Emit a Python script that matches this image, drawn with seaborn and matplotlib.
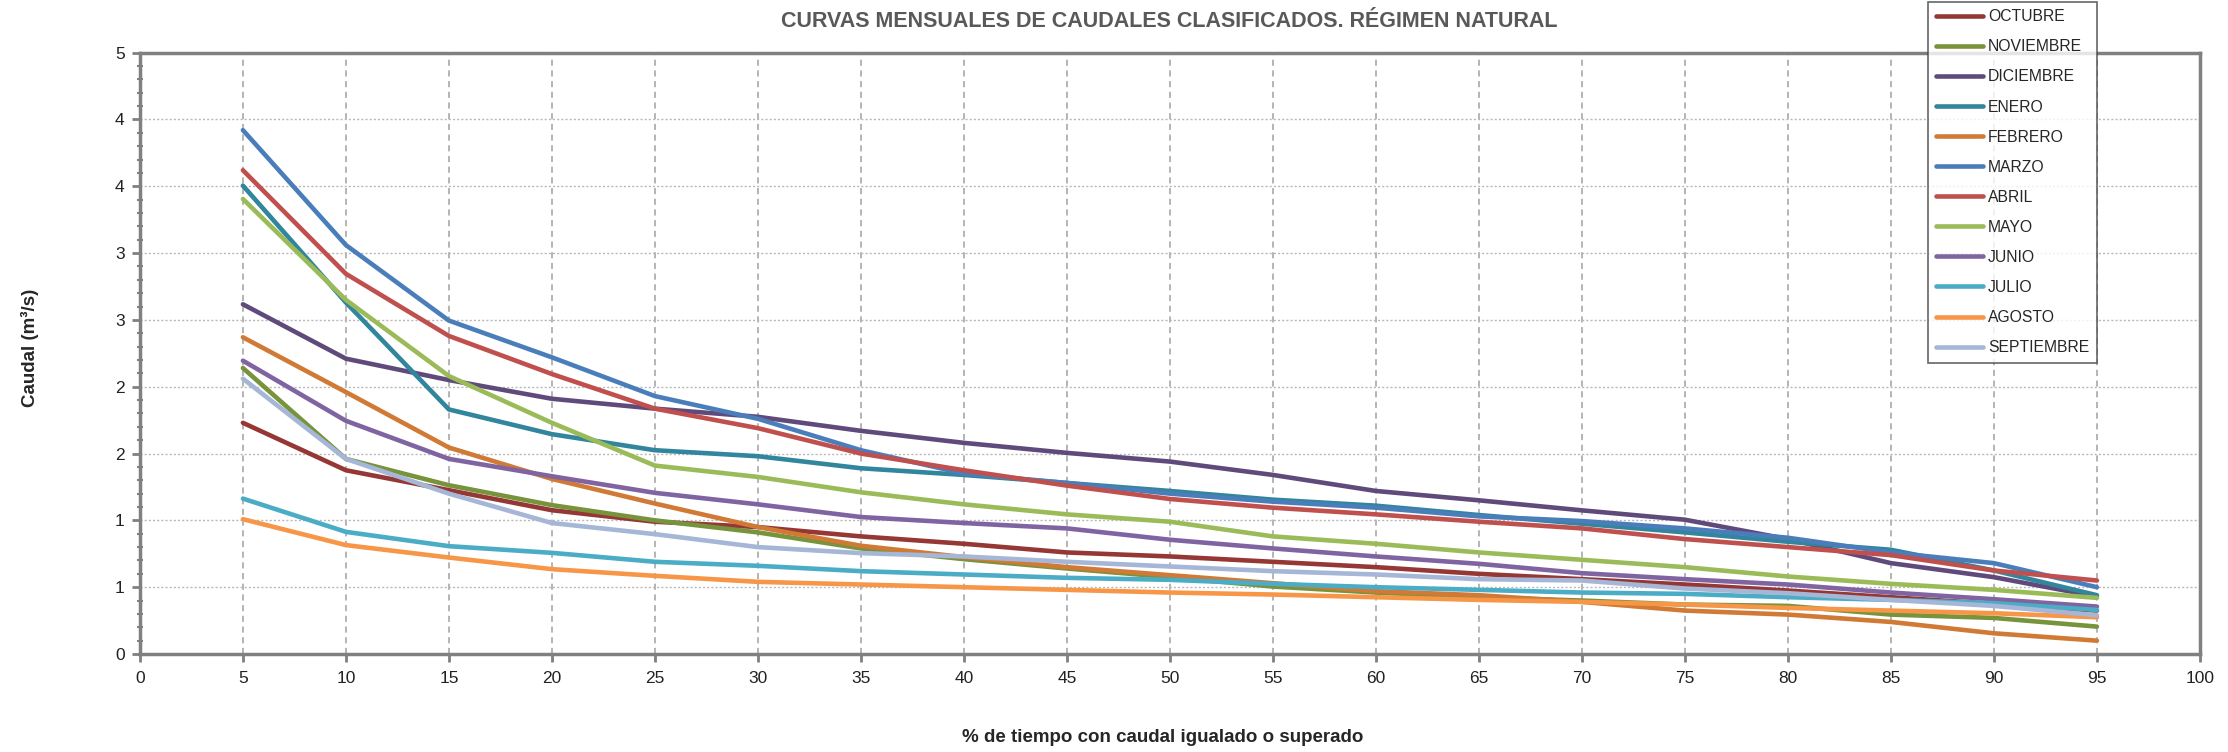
import numpy as np
import pandas as pd
import matplotlib
matplotlib.use('Agg')
import matplotlib.pyplot as plt
from matplotlib.ticker import FixedLocator, MultipleLocator
import seaborn as sns

# % of time the flow is equalled or exceeded
pct = [5, 10, 15, 20, 25, 30, 35, 40, 45, 50, 55, 60, 65, 70, 75, 80, 85, 90, 95]

months = ['OCTUBRE', 'NOVIEMBRE', 'DICIEMBRE', 'ENERO', 'FEBRERO', 'MARZO',
          'ABRIL', 'MAYO', 'JUNIO', 'JULIO', 'AGOSTO', 'SEPTIEMBRE']

octubre = [1.73, 1.375, 1.226, 1.076, 0.99, 0.95, 0.88, 0.825, 0.76, 0.73, 0.69, 0.65, 0.60, 0.56, 0.52, 0.475, 0.425, 0.375, 0.325]
noviembre = [2.14, 1.46, 1.263, 1.114, 1.00, 0.91, 0.79, 0.71, 0.64, 0.575, 0.505, 0.46, 0.425, 0.40, 0.37, 0.36, 0.295, 0.27, 0.205]
diciembre = [2.617, 2.21, 2.05, 1.91, 1.836, 1.775, 1.67, 1.58, 1.505, 1.44, 1.34, 1.22, 1.15, 1.075, 1.005, 0.86, 0.68, 0.575, 0.43]
enero = [3.505, 2.63, 1.83, 1.645, 1.525, 1.48, 1.39, 1.34, 1.28, 1.22, 1.155, 1.11, 1.04, 0.975, 0.91, 0.84, 0.78, 0.625, 0.44]
febrero = [2.37, 1.96, 1.545, 1.31, 1.126, 0.95, 0.81, 0.725, 0.65, 0.59, 0.53, 0.47, 0.44, 0.39, 0.325, 0.295, 0.24, 0.155, 0.10]
marzo = [3.92, 3.06, 2.495, 2.22, 1.93, 1.76, 1.525, 1.35, 1.28, 1.20, 1.14, 1.095, 1.03, 0.995, 0.94, 0.87, 0.76, 0.68, 0.50]
abril = [3.62, 2.845, 2.38, 2.095, 1.836, 1.69, 1.50, 1.375, 1.26, 1.16, 1.095, 1.045, 0.99, 0.94, 0.86, 0.80, 0.74, 0.625, 0.55]
mayo = [3.405, 2.65, 2.08, 1.73, 1.41, 1.325, 1.21, 1.12, 1.045, 0.99, 0.88, 0.825, 0.76, 0.705, 0.65, 0.58, 0.525, 0.48, 0.42]
junio = [2.195, 1.745, 1.46, 1.33, 1.206, 1.12, 1.025, 0.98, 0.94, 0.855, 0.79, 0.73, 0.675, 0.605, 0.56, 0.52, 0.46, 0.41, 0.355]
julio = [1.163, 0.914, 0.807, 0.757, 0.69, 0.66, 0.62, 0.595, 0.57, 0.555, 0.525, 0.50, 0.48, 0.46, 0.45, 0.425, 0.405, 0.38, 0.33]
agosto = [1.009, 0.815, 0.722, 0.635, 0.585, 0.54, 0.52, 0.50, 0.48, 0.46, 0.445, 0.425, 0.405, 0.39, 0.37, 0.345, 0.325, 0.305, 0.275]
septiembre = [2.06, 1.46, 1.20, 0.98, 0.897, 0.80, 0.755, 0.73, 0.69, 0.655, 0.62, 0.595, 0.56, 0.55, 0.49, 0.455, 0.405, 0.36, 0.29]

y_ticks = [0, 0.5, 1.0, 1.5, 2.0, 2.5, 3.0, 3.5, 4.0, 4.5]
y_tick_labels = ['0', '1', '1', '2', '2', '3', '3', '4', '4', '5']
x_ticks = list(range(0, 101, 5))

colors = ['#953735', '#77933C', '#604A7B', '#31859C', '#D07A35', '#4A7EBB',
          '#C0504D', '#9BBB59', '#8064A2', '#4BACC6', '#F79646', '#A5B6D6']

series = [octubre, noviembre, diciembre, enero, febrero, marzo,
          abril, mayo, junio, julio, agosto, septiembre]

df = pd.concat([pd.DataFrame({'pct': pct, 'caudal': vals, 'mes': m})
                for m, vals in zip(months, series)], ignore_index=True)

sns.set_style('white')
plt.rcParams['font.family'] = ['Liberation Sans', 'DejaVu Sans']

fig = plt.figure(figsize=(22.28, 7.52), dpi=100)
ax = fig.add_axes([0.0628, 0.1303, 0.9246, 0.7997])

grey = '#808080'
ax.set_xlim(0, 100)
ax.set_ylim(0, 4.5)
ax.xaxis.set_major_locator(FixedLocator(x_ticks))
ax.yaxis.set_major_locator(FixedLocator(y_ticks))
ax.set_yticklabels(y_tick_labels)
ax.yaxis.set_minor_locator(MultipleLocator(0.1))
ax.grid(True, axis='x', color='#a0a0a0', linestyle=(0, (4, 3)), linewidth=1.1)
ax.grid(True, axis='y', color='#b8b8b8', linestyle=(0, (1.5, 1.5)), linewidth=1.0)
ax.set_axisbelow(True)

sns.lineplot(data=df, x='pct', y='caudal', hue='mes', hue_order=months,
             palette=colors, linewidth=3.3, sort=False, ax=ax, legend=False,
             solid_capstyle='round')

for s in ax.spines.values():
    s.set_color(grey)
    s.set_linewidth(2.5)
ax.tick_params(axis='both', which='major', labelsize=12.5, colors=grey,
               labelcolor='#222222', length=6, width=2, direction='out')
ax.tick_params(axis='x', which='major', pad=6)
ax.tick_params(axis='y', which='major', pad=5)
ax.tick_params(axis='y', which='minor', left=True, length=4, width=1.5,
               colors=grey, direction='inout')
ax.tick_params(axis='x', which='major', bottom=True)
ax.tick_params(axis='y', which='major', left=True)

ax.set_xlabel('')
ax.set_ylabel('')
fig.text(0.522, 0.019, '% de tiempo con caudal igualado o superado',
         ha='center', va='center', fontsize=13.5, fontweight='bold')
fig.text(0.0135, 0.537, 'Caudal (m³/s)', rotation=90, ha='center', va='center',
         fontsize=13.5, fontweight='bold')
fig.text(0.525, 0.971, 'CURVAS MENSUALES DE CAUDALES CLASIFICADOS. RÉGIMEN NATURAL',
         ha='center', va='center', fontsize=15.5, fontweight='bold', color='#595959')

handles = [plt.Line2D([], [], color=c, linewidth=3.3, solid_capstyle='round') for c in colors]
leg = fig.legend(handles, months, loc='upper left',
                 bbox_to_anchor=(0.8655, 0.998), frameon=True, fancybox=False,
                 fontsize=11.3, handlelength=3.0, handletextpad=0.3,
                 labelspacing=0.96, borderpad=0.5, borderaxespad=0)
leg.get_frame().set_edgecolor('#404040')
leg.get_frame().set_linewidth(1.2)

fig.savefig('out.png', dpi=100)
plt.close(fig)
